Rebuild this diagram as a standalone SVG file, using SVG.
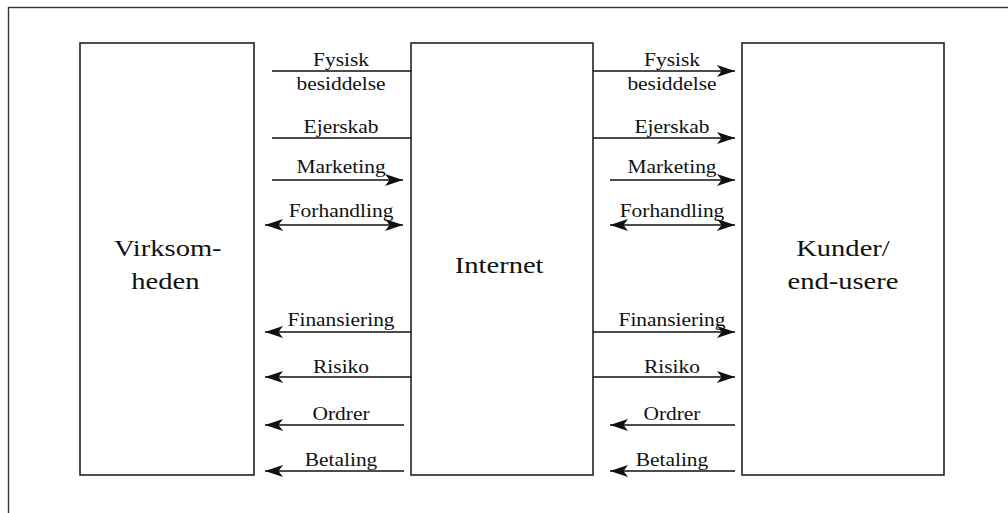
<svg xmlns="http://www.w3.org/2000/svg" width="1008" height="513" viewBox="0 0 1008 513">
<style>
.box{fill:#fff;stroke:#222;stroke-width:1.6}
.ln{stroke:#111;stroke-width:1.4;fill:none}
.lbl{font-family:"Liberation Serif","Times New Roman",serif;font-size:18px;fill:#111;text-anchor:middle}
.big{font-family:"Liberation Serif","Times New Roman",serif;font-size:24px;fill:#111;text-anchor:middle}
</style>
<defs>
<marker id="ah" markerUnits="userSpaceOnUse" markerWidth="20" markerHeight="14" refX="18" refY="7" orient="auto-start-reverse" viewBox="0 0 20 14">
<path d="M0,1 L18,7 L0,13 L4.5,7 Z" fill="#111"/>
</marker>
</defs>
<rect x="8.5" y="7.5" width="1010" height="520" fill="none" stroke="#333" stroke-width="1.4"/>
<g id="virksomheden">
<rect class="box" x="80" y="43" width="174" height="432"/>
<g transform="scale(1.19,1)"><text class="big" x="141" y="256">Virksom-</text><text class="big" x="139" y="289">heden</text></g>
</g>
<g id="internet">
<rect class="box" x="411" y="43" width="182" height="432"/>
<g transform="scale(1.19,1)"><text class="big" x="419.5" y="273">Internet</text></g>
</g>
<g id="kunder">
<rect class="box" x="742" y="43" width="202" height="432"/>
<g transform="scale(1.19,1)"><text class="big" x="708.4" y="256">Kunder/</text><text class="big" x="708.4" y="289">end-usere</text></g>
</g>
<g id="connectors">
<line class="ln" x1="272" y1="71" x2="411" y2="71"/>
<line class="ln" x1="272" y1="138" x2="411" y2="138"/>
<line class="ln" x1="272" y1="180" x2="403" y2="180" marker-end="url(#ah)"/>
<line class="ln" x1="265" y1="225" x2="403" y2="225" marker-start="url(#ah)" marker-end="url(#ah)"/>
<line class="ln" x1="411" y1="332" x2="265" y2="332" marker-end="url(#ah)"/>
<line class="ln" x1="411" y1="377" x2="265" y2="377" marker-end="url(#ah)"/>
<line class="ln" x1="404" y1="425" x2="265" y2="425" marker-end="url(#ah)"/>
<line class="ln" x1="404" y1="471" x2="265" y2="471" marker-end="url(#ah)"/>
<line class="ln" x1="593" y1="71" x2="735" y2="71" marker-end="url(#ah)"/>
<line class="ln" x1="593" y1="138" x2="735" y2="138" marker-end="url(#ah)"/>
<line class="ln" x1="610" y1="180" x2="735" y2="180" marker-end="url(#ah)"/>
<line class="ln" x1="610" y1="225" x2="735" y2="225" marker-start="url(#ah)" marker-end="url(#ah)"/>
<line class="ln" x1="593" y1="332" x2="735" y2="332" marker-end="url(#ah)"/>
<line class="ln" x1="593" y1="377" x2="735" y2="377" marker-end="url(#ah)"/>
<line class="ln" x1="735" y1="425" x2="610" y2="425" marker-end="url(#ah)"/>
<line class="ln" x1="735" y1="471" x2="610" y2="471" marker-end="url(#ah)"/>
<g transform="scale(1.19,1)">
<text class="lbl" x="286.6" y="66">Fysisk</text>
<text class="lbl" x="286.6" y="90">besiddelse</text>
<text class="lbl" x="286.6" y="133">Ejerskab</text>
<text class="lbl" x="286.6" y="173">Marketing</text>
<text class="lbl" x="286.6" y="217">Forhandling</text>
<text class="lbl" x="286.6" y="326">Finansiering</text>
<text class="lbl" x="286.6" y="373">Risiko</text>
<text class="lbl" x="286.6" y="420">Ordrer</text>
<text class="lbl" x="286.6" y="466">Betaling</text>
<text class="lbl" x="564.7" y="66">Fysisk</text>
<text class="lbl" x="564.7" y="90">besiddelse</text>
<text class="lbl" x="564.7" y="133">Ejerskab</text>
<text class="lbl" x="564.7" y="173">Marketing</text>
<text class="lbl" x="564.7" y="217">Forhandling</text>
<text class="lbl" x="564.7" y="326">Finansiering</text>
<text class="lbl" x="564.7" y="373">Risiko</text>
<text class="lbl" x="564.7" y="420">Ordrer</text>
<text class="lbl" x="564.7" y="466">Betaling</text>
</g>
</g>
</svg>
